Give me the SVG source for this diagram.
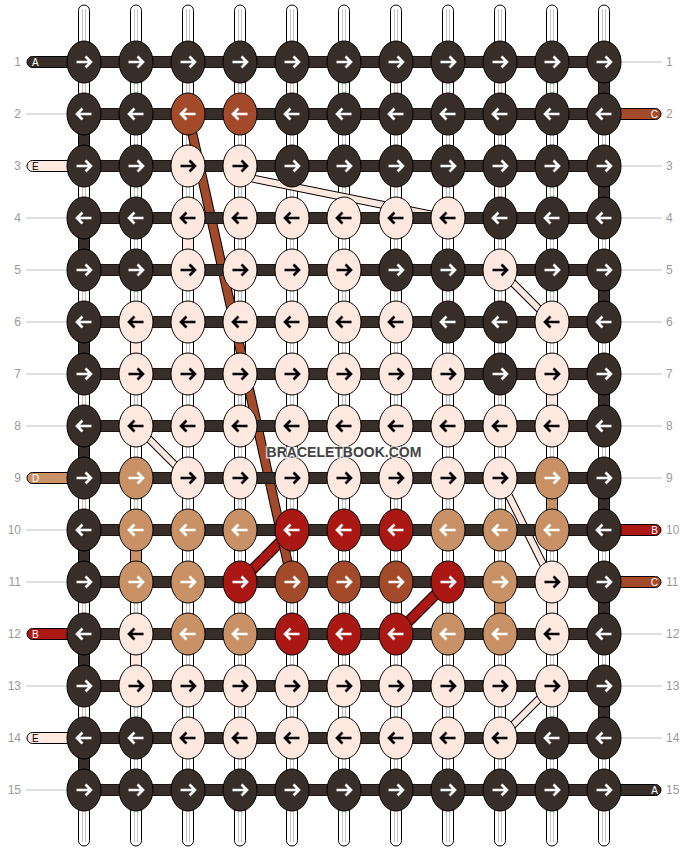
<svg xmlns="http://www.w3.org/2000/svg" xmlns:xlink="http://www.w3.org/1999/xlink" width="688" height="852" viewBox="0 0 688 852">
<style>
.d{fill:#382e29;stroke:#fff}
.r{fill:#a24a2a;stroke:#fff}
.l{fill:#ffe8e0;stroke:#000}
.t{fill:#c99166;stroke:#fff}
.e{fill:#ab1713;stroke:#fff}
ellipse{stroke:#000;stroke-width:1}
.ws{fill:#fff;stroke:#000;stroke-width:1}
.wl{stroke:#c4c4c4;stroke-width:1;fill:none}
.seg{stroke:#000;stroke-width:1}
.bar{fill:#382e29;stroke:#1a1411;stroke-width:1}
.num{font-family:'Liberation Sans',Arial,sans-serif;font-size:12px;fill:#999}
.lead{stroke:#c0c0c0;stroke-width:1}
.tl{font-family:'Liberation Sans',Arial,sans-serif;font-size:10px}
.wm{font-family:'Liberation Sans',Arial,sans-serif;font-weight:bold;font-size:14px;fill:#444;stroke:#fff;stroke-opacity:0.7;stroke-width:3;paint-order:stroke;text-anchor:middle}
</style>
<defs>
<path id="R" d="M-7.5,0H6.5M1.5,-5.5L7,0L1.5,5.5" fill="none" stroke-width="2.6"/>
<path id="L" d="M7.5,0H-6.5M-1.5,-5.5L-7,0L-1.5,5.5" fill="none" stroke-width="2.6"/>
</defs>
<g id="strings">
<g class="ws">
<rect x="78.5" y="5" width="11" height="841" rx="5.5"/>
<rect x="130.5" y="5" width="11" height="841" rx="5.5"/>
<rect x="182.5" y="5" width="11" height="841" rx="5.5"/>
<rect x="234.5" y="5" width="11" height="841" rx="5.5"/>
<rect x="286.5" y="5" width="11" height="841" rx="5.5"/>
<rect x="338.5" y="5" width="11" height="841" rx="5.5"/>
<rect x="390.5" y="5" width="11" height="841" rx="5.5"/>
<rect x="442.5" y="5" width="11" height="841" rx="5.5"/>
<rect x="494.5" y="5" width="11" height="841" rx="5.5"/>
<rect x="546.5" y="5" width="11" height="841" rx="5.5"/>
<rect x="598.5" y="5" width="11" height="841" rx="5.5"/>
</g>
<path class="wl" d="M82.5,9V842M85.5,9V842M134.5,9V842M137.5,9V842M186.5,9V842M189.5,9V842M238.5,9V842M241.5,9V842M290.5,9V842M293.5,9V842M342.5,9V842M345.5,9V842M394.5,9V842M397.5,9V842M446.5,9V842M449.5,9V842M498.5,9V842M501.5,9V842M550.5,9V842M553.5,9V842M602.5,9V842M605.5,9V842"/>
<g class="seg" fill="#382e29">
<rect x="78.5" y="124" width="11" height="32"/>
<rect x="78.5" y="228" width="11" height="32"/>
<rect x="78.5" y="332" width="11" height="32"/>
<rect x="78.5" y="436" width="11" height="32"/>
<rect x="78.5" y="540" width="11" height="32"/>
<rect x="78.5" y="644" width="11" height="32"/>
<rect x="78.5" y="748" width="11" height="32"/>
<rect x="598.5" y="72" width="11" height="32"/>
<rect x="598.5" y="176" width="11" height="32"/>
<rect x="598.5" y="280" width="11" height="32"/>
<rect x="598.5" y="384" width="11" height="32"/>
<rect x="598.5" y="488" width="11" height="32"/>
<rect x="598.5" y="592" width="11" height="32"/>
<rect x="598.5" y="696" width="11" height="32"/>
</g>
<g class="seg" fill="#ffe8e0">
<rect x="182.5" y="228" width="11" height="32"/>
<rect x="130.5" y="332" width="11" height="32"/>
<rect x="546.5" y="384" width="11" height="32"/>
<rect x="130.5" y="644" width="11" height="32"/>
<rect x="546.5" y="592" width="11" height="32"/>
</g>
<g class="seg" fill="#c99166">
<rect x="130.5" y="540" width="11" height="32"/>
<rect x="546.5" y="488" width="11" height="32"/>
<rect x="494.5" y="592" width="11" height="32"/>
</g>
</g>
<g id="connectors" fill="none">
<g stroke="#000" stroke-width="8">
<line x1="240" y1="176" x2="448" y2="218"/>
<line x1="500" y1="270" x2="552" y2="322"/>
<line x1="136" y1="426" x2="188" y2="478"/>
<line x1="500" y1="478" x2="552" y2="582"/>
<line x1="552" y1="686" x2="500" y2="738"/>
</g>
<g stroke="#ffe8e0" stroke-width="6">
<line x1="240" y1="176" x2="448" y2="218"/>
<line x1="500" y1="270" x2="552" y2="322"/>
<line x1="136" y1="426" x2="188" y2="478"/>
<line x1="500" y1="478" x2="552" y2="582"/>
<line x1="552" y1="686" x2="500" y2="738"/>
</g>
<line x1="240" y1="582" x2="292" y2="530" stroke="#000" stroke-width="11"/>
<line x1="396" y1="634" x2="448" y2="582" stroke="#000" stroke-width="11"/>
<line x1="240" y1="582" x2="292" y2="530" stroke="#ab1713" stroke-width="9"/>
<line x1="396" y1="634" x2="448" y2="582" stroke="#ab1713" stroke-width="9"/>
<line x1="188" y1="114" x2="292" y2="582" stroke="#000" stroke-width="10"/>
<line x1="188" y1="114" x2="292" y2="582" stroke="#a24a2a" stroke-width="8"/>
</g>
<g id="rows">
<rect class="bar" x="84" y="56.5" width="520" height="11"/>
<rect class="bar" x="84" y="108.5" width="520" height="11"/>
<rect class="bar" x="84" y="160.5" width="520" height="11"/>
<rect class="bar" x="84" y="212.5" width="520" height="11"/>
<rect class="bar" x="84" y="264.5" width="520" height="11"/>
<rect class="bar" x="84" y="316.5" width="520" height="11"/>
<rect class="bar" x="84" y="368.5" width="520" height="11"/>
<rect class="bar" x="84" y="420.5" width="520" height="11"/>
<rect class="bar" x="84" y="472.5" width="520" height="11"/>
<rect class="bar" x="84" y="524.5" width="520" height="11"/>
<rect class="bar" x="84" y="576.5" width="520" height="11"/>
<rect class="bar" x="84" y="628.5" width="520" height="11"/>
<rect class="bar" x="84" y="680.5" width="520" height="11"/>
<rect class="bar" x="84" y="732.5" width="520" height="11"/>
<rect class="bar" x="84" y="784.5" width="520" height="11"/>
</g>
<g id="edge-threads" stroke="#000" stroke-width="1">
<rect x="27" y="56.5" width="52" height="11" rx="5.5" fill="#382e29"/>
<rect x="27" y="160.5" width="52" height="11" rx="5.5" fill="#ffe8e0"/>
<rect x="27" y="472.5" width="52" height="11" rx="5.5" fill="#c99166"/>
<rect x="27" y="628.5" width="52" height="11" rx="5.5" fill="#ab1713"/>
<rect x="27" y="732.5" width="52" height="11" rx="5.5" fill="#ffe8e0"/>
<rect x="609" y="108.5" width="52" height="11" rx="5.5" fill="#a24a2a"/>
<rect x="609" y="524.5" width="52" height="11" rx="5.5" fill="#ab1713"/>
<rect x="609" y="576.5" width="52" height="11" rx="5.5" fill="#a24a2a"/>
<rect x="609" y="784.5" width="52" height="11" rx="5.5" fill="#382e29"/>
</g>
<g id="edge-labels" class="tl">
<text x="32" y="66" fill="#fff">A</text>
<text x="32" y="170" fill="#000">E</text>
<text x="32" y="482" fill="#fff">D</text>
<text x="32" y="638" fill="#fff">B</text>
<text x="32" y="742" fill="#000">E</text>
<text x="658" y="118" fill="#fff" text-anchor="end">C</text>
<text x="658" y="534" fill="#fff" text-anchor="end">B</text>
<text x="658" y="586" fill="#fff" text-anchor="end">C</text>
<text x="658" y="794" fill="#fff" text-anchor="end">A</text>
</g>
<g id="leaders" class="lead">
<line x1="26" y1="114" x2="67" y2="114"/>
<line x1="26" y1="218" x2="67" y2="218"/>
<line x1="26" y1="270" x2="67" y2="270"/>
<line x1="26" y1="322" x2="67" y2="322"/>
<line x1="26" y1="374" x2="67" y2="374"/>
<line x1="26" y1="426" x2="67" y2="426"/>
<line x1="26" y1="530" x2="67" y2="530"/>
<line x1="26" y1="582" x2="67" y2="582"/>
<line x1="26" y1="686" x2="67" y2="686"/>
<line x1="26" y1="790" x2="67" y2="790"/>
<line x1="621" y1="62" x2="662" y2="62"/>
<line x1="621" y1="166" x2="662" y2="166"/>
<line x1="621" y1="218" x2="662" y2="218"/>
<line x1="621" y1="270" x2="662" y2="270"/>
<line x1="621" y1="322" x2="662" y2="322"/>
<line x1="621" y1="374" x2="662" y2="374"/>
<line x1="621" y1="426" x2="662" y2="426"/>
<line x1="621" y1="478" x2="662" y2="478"/>
<line x1="621" y1="634" x2="662" y2="634"/>
<line x1="621" y1="686" x2="662" y2="686"/>
<line x1="621" y1="738" x2="662" y2="738"/>
</g>
<g id="row-numbers" class="num">
<g text-anchor="end">
<text x="21" y="66">1</text><text x="21" y="118">2</text><text x="21" y="170">3</text><text x="21" y="222">4</text><text x="21" y="274">5</text><text x="21" y="326">6</text><text x="21" y="378">7</text><text x="21" y="430">8</text><text x="21" y="482">9</text><text x="21" y="534">10</text><text x="21" y="586">11</text><text x="21" y="638">12</text><text x="21" y="690">13</text><text x="21" y="742">14</text><text x="21" y="794">15</text>
</g>
<g>
<text x="666" y="66">1</text><text x="666" y="118">2</text><text x="666" y="170">3</text><text x="666" y="222">4</text><text x="666" y="274">5</text><text x="666" y="326">6</text><text x="666" y="378">7</text><text x="666" y="430">8</text><text x="666" y="482">9</text><text x="666" y="534">10</text><text x="666" y="586">11</text><text x="666" y="638">12</text><text x="666" y="690">13</text><text x="666" y="742">14</text><text x="666" y="794">15</text>
</g>
</g>
<g id="knots">
<g id="k1-1" class="d"><ellipse cx="84" cy="62" rx="17" ry="21"/><use href="#R" x="84" y="62"/></g>
<g id="k1-2" class="d"><ellipse cx="136" cy="62" rx="17" ry="21"/><use href="#R" x="136" y="62"/></g>
<g id="k1-3" class="d"><ellipse cx="188" cy="62" rx="17" ry="21"/><use href="#R" x="188" y="62"/></g>
<g id="k1-4" class="d"><ellipse cx="240" cy="62" rx="17" ry="21"/><use href="#R" x="240" y="62"/></g>
<g id="k1-5" class="d"><ellipse cx="292" cy="62" rx="17" ry="21"/><use href="#R" x="292" y="62"/></g>
<g id="k1-6" class="d"><ellipse cx="344" cy="62" rx="17" ry="21"/><use href="#R" x="344" y="62"/></g>
<g id="k1-7" class="d"><ellipse cx="396" cy="62" rx="17" ry="21"/><use href="#R" x="396" y="62"/></g>
<g id="k1-8" class="d"><ellipse cx="448" cy="62" rx="17" ry="21"/><use href="#R" x="448" y="62"/></g>
<g id="k1-9" class="d"><ellipse cx="500" cy="62" rx="17" ry="21"/><use href="#R" x="500" y="62"/></g>
<g id="k1-10" class="d"><ellipse cx="552" cy="62" rx="17" ry="21"/><use href="#R" x="552" y="62"/></g>
<g id="k1-11" class="d"><ellipse cx="604" cy="62" rx="17" ry="21"/><use href="#R" x="604" y="62"/></g>

<g id="k2-1" class="d"><ellipse cx="84" cy="114" rx="17" ry="21"/><use href="#L" x="84" y="114"/></g>
<g id="k2-2" class="d"><ellipse cx="136" cy="114" rx="17" ry="21"/><use href="#L" x="136" y="114"/></g>
<g id="k2-3" class="r"><ellipse cx="188" cy="114" rx="17" ry="21"/><use href="#L" x="188" y="114"/></g>
<g id="k2-4" class="r"><ellipse cx="240" cy="114" rx="17" ry="21"/><use href="#L" x="240" y="114"/></g>
<g id="k2-5" class="d"><ellipse cx="292" cy="114" rx="17" ry="21"/><use href="#L" x="292" y="114"/></g>
<g id="k2-6" class="d"><ellipse cx="344" cy="114" rx="17" ry="21"/><use href="#L" x="344" y="114"/></g>
<g id="k2-7" class="d"><ellipse cx="396" cy="114" rx="17" ry="21"/><use href="#L" x="396" y="114"/></g>
<g id="k2-8" class="d"><ellipse cx="448" cy="114" rx="17" ry="21"/><use href="#L" x="448" y="114"/></g>
<g id="k2-9" class="d"><ellipse cx="500" cy="114" rx="17" ry="21"/><use href="#L" x="500" y="114"/></g>
<g id="k2-10" class="d"><ellipse cx="552" cy="114" rx="17" ry="21"/><use href="#L" x="552" y="114"/></g>
<g id="k2-11" class="d"><ellipse cx="604" cy="114" rx="17" ry="21"/><use href="#L" x="604" y="114"/></g>

<g id="k3-1" class="d"><ellipse cx="84" cy="166" rx="17" ry="21"/><use href="#R" x="84" y="166"/></g>
<g id="k3-2" class="d"><ellipse cx="136" cy="166" rx="17" ry="21"/><use href="#R" x="136" y="166"/></g>
<g id="k3-3" class="l"><ellipse cx="188" cy="166" rx="17" ry="21"/><use href="#R" x="188" y="166"/></g>
<g id="k3-4" class="l"><ellipse cx="240" cy="166" rx="17" ry="21"/><use href="#R" x="240" y="166"/></g>
<g id="k3-5" class="d"><ellipse cx="292" cy="166" rx="17" ry="21"/><use href="#R" x="292" y="166"/></g>
<g id="k3-6" class="d"><ellipse cx="344" cy="166" rx="17" ry="21"/><use href="#R" x="344" y="166"/></g>
<g id="k3-7" class="d"><ellipse cx="396" cy="166" rx="17" ry="21"/><use href="#R" x="396" y="166"/></g>
<g id="k3-8" class="d"><ellipse cx="448" cy="166" rx="17" ry="21"/><use href="#R" x="448" y="166"/></g>
<g id="k3-9" class="d"><ellipse cx="500" cy="166" rx="17" ry="21"/><use href="#R" x="500" y="166"/></g>
<g id="k3-10" class="d"><ellipse cx="552" cy="166" rx="17" ry="21"/><use href="#R" x="552" y="166"/></g>
<g id="k3-11" class="d"><ellipse cx="604" cy="166" rx="17" ry="21"/><use href="#R" x="604" y="166"/></g>

<g id="k4-1" class="d"><ellipse cx="84" cy="218" rx="17" ry="21"/><use href="#L" x="84" y="218"/></g>
<g id="k4-2" class="d"><ellipse cx="136" cy="218" rx="17" ry="21"/><use href="#L" x="136" y="218"/></g>
<g id="k4-3" class="l"><ellipse cx="188" cy="218" rx="17" ry="21"/><use href="#L" x="188" y="218"/></g>
<g id="k4-4" class="l"><ellipse cx="240" cy="218" rx="17" ry="21"/><use href="#L" x="240" y="218"/></g>
<g id="k4-5" class="l"><ellipse cx="292" cy="218" rx="17" ry="21"/><use href="#L" x="292" y="218"/></g>
<g id="k4-6" class="l"><ellipse cx="344" cy="218" rx="17" ry="21"/><use href="#L" x="344" y="218"/></g>
<g id="k4-7" class="l"><ellipse cx="396" cy="218" rx="17" ry="21"/><use href="#L" x="396" y="218"/></g>
<g id="k4-8" class="l"><ellipse cx="448" cy="218" rx="17" ry="21"/><use href="#L" x="448" y="218"/></g>
<g id="k4-9" class="d"><ellipse cx="500" cy="218" rx="17" ry="21"/><use href="#L" x="500" y="218"/></g>
<g id="k4-10" class="d"><ellipse cx="552" cy="218" rx="17" ry="21"/><use href="#L" x="552" y="218"/></g>
<g id="k4-11" class="d"><ellipse cx="604" cy="218" rx="17" ry="21"/><use href="#L" x="604" y="218"/></g>

<g id="k5-1" class="d"><ellipse cx="84" cy="270" rx="17" ry="21"/><use href="#R" x="84" y="270"/></g>
<g id="k5-2" class="d"><ellipse cx="136" cy="270" rx="17" ry="21"/><use href="#R" x="136" y="270"/></g>
<g id="k5-3" class="l"><ellipse cx="188" cy="270" rx="17" ry="21"/><use href="#R" x="188" y="270"/></g>
<g id="k5-4" class="l"><ellipse cx="240" cy="270" rx="17" ry="21"/><use href="#R" x="240" y="270"/></g>
<g id="k5-5" class="l"><ellipse cx="292" cy="270" rx="17" ry="21"/><use href="#R" x="292" y="270"/></g>
<g id="k5-6" class="l"><ellipse cx="344" cy="270" rx="17" ry="21"/><use href="#R" x="344" y="270"/></g>
<g id="k5-7" class="d"><ellipse cx="396" cy="270" rx="17" ry="21"/><use href="#R" x="396" y="270"/></g>
<g id="k5-8" class="d"><ellipse cx="448" cy="270" rx="17" ry="21"/><use href="#R" x="448" y="270"/></g>
<g id="k5-9" class="l"><ellipse cx="500" cy="270" rx="17" ry="21"/><use href="#R" x="500" y="270"/></g>
<g id="k5-10" class="d"><ellipse cx="552" cy="270" rx="17" ry="21"/><use href="#R" x="552" y="270"/></g>
<g id="k5-11" class="d"><ellipse cx="604" cy="270" rx="17" ry="21"/><use href="#R" x="604" y="270"/></g>

<g id="k6-1" class="d"><ellipse cx="84" cy="322" rx="17" ry="21"/><use href="#L" x="84" y="322"/></g>
<g id="k6-2" class="l"><ellipse cx="136" cy="322" rx="17" ry="21"/><use href="#L" x="136" y="322"/></g>
<g id="k6-3" class="l"><ellipse cx="188" cy="322" rx="17" ry="21"/><use href="#L" x="188" y="322"/></g>
<g id="k6-4" class="l"><ellipse cx="240" cy="322" rx="17" ry="21"/><use href="#L" x="240" y="322"/></g>
<g id="k6-5" class="l"><ellipse cx="292" cy="322" rx="17" ry="21"/><use href="#L" x="292" y="322"/></g>
<g id="k6-6" class="l"><ellipse cx="344" cy="322" rx="17" ry="21"/><use href="#L" x="344" y="322"/></g>
<g id="k6-7" class="l"><ellipse cx="396" cy="322" rx="17" ry="21"/><use href="#L" x="396" y="322"/></g>
<g id="k6-8" class="d"><ellipse cx="448" cy="322" rx="17" ry="21"/><use href="#L" x="448" y="322"/></g>
<g id="k6-9" class="d"><ellipse cx="500" cy="322" rx="17" ry="21"/><use href="#L" x="500" y="322"/></g>
<g id="k6-10" class="l"><ellipse cx="552" cy="322" rx="17" ry="21"/><use href="#L" x="552" y="322"/></g>
<g id="k6-11" class="d"><ellipse cx="604" cy="322" rx="17" ry="21"/><use href="#L" x="604" y="322"/></g>

<g id="k7-1" class="d"><ellipse cx="84" cy="374" rx="17" ry="21"/><use href="#R" x="84" y="374"/></g>
<g id="k7-2" class="l"><ellipse cx="136" cy="374" rx="17" ry="21"/><use href="#R" x="136" y="374"/></g>
<g id="k7-3" class="l"><ellipse cx="188" cy="374" rx="17" ry="21"/><use href="#R" x="188" y="374"/></g>
<g id="k7-4" class="l"><ellipse cx="240" cy="374" rx="17" ry="21"/><use href="#R" x="240" y="374"/></g>
<g id="k7-5" class="l"><ellipse cx="292" cy="374" rx="17" ry="21"/><use href="#R" x="292" y="374"/></g>
<g id="k7-6" class="l"><ellipse cx="344" cy="374" rx="17" ry="21"/><use href="#R" x="344" y="374"/></g>
<g id="k7-7" class="l"><ellipse cx="396" cy="374" rx="17" ry="21"/><use href="#R" x="396" y="374"/></g>
<g id="k7-8" class="l"><ellipse cx="448" cy="374" rx="17" ry="21"/><use href="#R" x="448" y="374"/></g>
<g id="k7-9" class="d"><ellipse cx="500" cy="374" rx="17" ry="21"/><use href="#R" x="500" y="374"/></g>
<g id="k7-10" class="l"><ellipse cx="552" cy="374" rx="17" ry="21"/><use href="#R" x="552" y="374"/></g>
<g id="k7-11" class="d"><ellipse cx="604" cy="374" rx="17" ry="21"/><use href="#R" x="604" y="374"/></g>

<g id="k8-1" class="d"><ellipse cx="84" cy="426" rx="17" ry="21"/><use href="#L" x="84" y="426"/></g>
<g id="k8-2" class="l"><ellipse cx="136" cy="426" rx="17" ry="21"/><use href="#L" x="136" y="426"/></g>
<g id="k8-3" class="l"><ellipse cx="188" cy="426" rx="17" ry="21"/><use href="#L" x="188" y="426"/></g>
<g id="k8-4" class="l"><ellipse cx="240" cy="426" rx="17" ry="21"/><use href="#L" x="240" y="426"/></g>
<g id="k8-5" class="l"><ellipse cx="292" cy="426" rx="17" ry="21"/><use href="#L" x="292" y="426"/></g>
<g id="k8-6" class="l"><ellipse cx="344" cy="426" rx="17" ry="21"/><use href="#L" x="344" y="426"/></g>
<g id="k8-7" class="l"><ellipse cx="396" cy="426" rx="17" ry="21"/><use href="#L" x="396" y="426"/></g>
<g id="k8-8" class="l"><ellipse cx="448" cy="426" rx="17" ry="21"/><use href="#L" x="448" y="426"/></g>
<g id="k8-9" class="l"><ellipse cx="500" cy="426" rx="17" ry="21"/><use href="#L" x="500" y="426"/></g>
<g id="k8-10" class="l"><ellipse cx="552" cy="426" rx="17" ry="21"/><use href="#L" x="552" y="426"/></g>
<g id="k8-11" class="d"><ellipse cx="604" cy="426" rx="17" ry="21"/><use href="#L" x="604" y="426"/></g>

<g id="k9-1" class="d"><ellipse cx="84" cy="478" rx="17" ry="21"/><use href="#R" x="84" y="478"/></g>
<g id="k9-2" class="t"><ellipse cx="136" cy="478" rx="17" ry="21"/><use href="#R" x="136" y="478"/></g>
<g id="k9-3" class="l"><ellipse cx="188" cy="478" rx="17" ry="21"/><use href="#R" x="188" y="478"/></g>
<g id="k9-4" class="l"><ellipse cx="240" cy="478" rx="17" ry="21"/><use href="#R" x="240" y="478"/></g>
<g id="k9-5" class="l"><ellipse cx="292" cy="478" rx="17" ry="21"/><use href="#R" x="292" y="478"/></g>
<g id="k9-6" class="l"><ellipse cx="344" cy="478" rx="17" ry="21"/><use href="#R" x="344" y="478"/></g>
<g id="k9-7" class="l"><ellipse cx="396" cy="478" rx="17" ry="21"/><use href="#R" x="396" y="478"/></g>
<g id="k9-8" class="l"><ellipse cx="448" cy="478" rx="17" ry="21"/><use href="#R" x="448" y="478"/></g>
<g id="k9-9" class="l"><ellipse cx="500" cy="478" rx="17" ry="21"/><use href="#R" x="500" y="478"/></g>
<g id="k9-10" class="t"><ellipse cx="552" cy="478" rx="17" ry="21"/><use href="#R" x="552" y="478"/></g>
<g id="k9-11" class="d"><ellipse cx="604" cy="478" rx="17" ry="21"/><use href="#R" x="604" y="478"/></g>

<g id="k10-1" class="d"><ellipse cx="84" cy="530" rx="17" ry="21"/><use href="#L" x="84" y="530"/></g>
<g id="k10-2" class="t"><ellipse cx="136" cy="530" rx="17" ry="21"/><use href="#L" x="136" y="530"/></g>
<g id="k10-3" class="t"><ellipse cx="188" cy="530" rx="17" ry="21"/><use href="#L" x="188" y="530"/></g>
<g id="k10-4" class="t"><ellipse cx="240" cy="530" rx="17" ry="21"/><use href="#L" x="240" y="530"/></g>
<g id="k10-5" class="e"><ellipse cx="292" cy="530" rx="17" ry="21"/><use href="#L" x="292" y="530"/></g>
<g id="k10-6" class="e"><ellipse cx="344" cy="530" rx="17" ry="21"/><use href="#L" x="344" y="530"/></g>
<g id="k10-7" class="e"><ellipse cx="396" cy="530" rx="17" ry="21"/><use href="#L" x="396" y="530"/></g>
<g id="k10-8" class="t"><ellipse cx="448" cy="530" rx="17" ry="21"/><use href="#L" x="448" y="530"/></g>
<g id="k10-9" class="t"><ellipse cx="500" cy="530" rx="17" ry="21"/><use href="#L" x="500" y="530"/></g>
<g id="k10-10" class="t"><ellipse cx="552" cy="530" rx="17" ry="21"/><use href="#L" x="552" y="530"/></g>
<g id="k10-11" class="d"><ellipse cx="604" cy="530" rx="17" ry="21"/><use href="#L" x="604" y="530"/></g>

<g id="k11-1" class="d"><ellipse cx="84" cy="582" rx="17" ry="21"/><use href="#R" x="84" y="582"/></g>
<g id="k11-2" class="t"><ellipse cx="136" cy="582" rx="17" ry="21"/><use href="#R" x="136" y="582"/></g>
<g id="k11-3" class="t"><ellipse cx="188" cy="582" rx="17" ry="21"/><use href="#R" x="188" y="582"/></g>
<g id="k11-4" class="e"><ellipse cx="240" cy="582" rx="17" ry="21"/><use href="#R" x="240" y="582"/></g>
<g id="k11-5" class="r"><ellipse cx="292" cy="582" rx="17" ry="21"/><use href="#R" x="292" y="582"/></g>
<g id="k11-6" class="r"><ellipse cx="344" cy="582" rx="17" ry="21"/><use href="#R" x="344" y="582"/></g>
<g id="k11-7" class="r"><ellipse cx="396" cy="582" rx="17" ry="21"/><use href="#R" x="396" y="582"/></g>
<g id="k11-8" class="e"><ellipse cx="448" cy="582" rx="17" ry="21"/><use href="#R" x="448" y="582"/></g>
<g id="k11-9" class="t"><ellipse cx="500" cy="582" rx="17" ry="21"/><use href="#R" x="500" y="582"/></g>
<g id="k11-10" class="l"><ellipse cx="552" cy="582" rx="17" ry="21"/><use href="#R" x="552" y="582"/></g>
<g id="k11-11" class="d"><ellipse cx="604" cy="582" rx="17" ry="21"/><use href="#R" x="604" y="582"/></g>

<g id="k12-1" class="d"><ellipse cx="84" cy="634" rx="17" ry="21"/><use href="#L" x="84" y="634"/></g>
<g id="k12-2" class="l"><ellipse cx="136" cy="634" rx="17" ry="21"/><use href="#L" x="136" y="634"/></g>
<g id="k12-3" class="t"><ellipse cx="188" cy="634" rx="17" ry="21"/><use href="#L" x="188" y="634"/></g>
<g id="k12-4" class="t"><ellipse cx="240" cy="634" rx="17" ry="21"/><use href="#L" x="240" y="634"/></g>
<g id="k12-5" class="e"><ellipse cx="292" cy="634" rx="17" ry="21"/><use href="#L" x="292" y="634"/></g>
<g id="k12-6" class="e"><ellipse cx="344" cy="634" rx="17" ry="21"/><use href="#L" x="344" y="634"/></g>
<g id="k12-7" class="e"><ellipse cx="396" cy="634" rx="17" ry="21"/><use href="#L" x="396" y="634"/></g>
<g id="k12-8" class="t"><ellipse cx="448" cy="634" rx="17" ry="21"/><use href="#L" x="448" y="634"/></g>
<g id="k12-9" class="t"><ellipse cx="500" cy="634" rx="17" ry="21"/><use href="#L" x="500" y="634"/></g>
<g id="k12-10" class="l"><ellipse cx="552" cy="634" rx="17" ry="21"/><use href="#L" x="552" y="634"/></g>
<g id="k12-11" class="d"><ellipse cx="604" cy="634" rx="17" ry="21"/><use href="#L" x="604" y="634"/></g>

<g id="k13-1" class="d"><ellipse cx="84" cy="686" rx="17" ry="21"/><use href="#R" x="84" y="686"/></g>
<g id="k13-2" class="l"><ellipse cx="136" cy="686" rx="17" ry="21"/><use href="#R" x="136" y="686"/></g>
<g id="k13-3" class="l"><ellipse cx="188" cy="686" rx="17" ry="21"/><use href="#R" x="188" y="686"/></g>
<g id="k13-4" class="l"><ellipse cx="240" cy="686" rx="17" ry="21"/><use href="#R" x="240" y="686"/></g>
<g id="k13-5" class="l"><ellipse cx="292" cy="686" rx="17" ry="21"/><use href="#R" x="292" y="686"/></g>
<g id="k13-6" class="l"><ellipse cx="344" cy="686" rx="17" ry="21"/><use href="#R" x="344" y="686"/></g>
<g id="k13-7" class="l"><ellipse cx="396" cy="686" rx="17" ry="21"/><use href="#R" x="396" y="686"/></g>
<g id="k13-8" class="l"><ellipse cx="448" cy="686" rx="17" ry="21"/><use href="#R" x="448" y="686"/></g>
<g id="k13-9" class="l"><ellipse cx="500" cy="686" rx="17" ry="21"/><use href="#R" x="500" y="686"/></g>
<g id="k13-10" class="l"><ellipse cx="552" cy="686" rx="17" ry="21"/><use href="#R" x="552" y="686"/></g>
<g id="k13-11" class="d"><ellipse cx="604" cy="686" rx="17" ry="21"/><use href="#R" x="604" y="686"/></g>

<g id="k14-1" class="d"><ellipse cx="84" cy="738" rx="17" ry="21"/><use href="#L" x="84" y="738"/></g>
<g id="k14-2" class="d"><ellipse cx="136" cy="738" rx="17" ry="21"/><use href="#L" x="136" y="738"/></g>
<g id="k14-3" class="l"><ellipse cx="188" cy="738" rx="17" ry="21"/><use href="#L" x="188" y="738"/></g>
<g id="k14-4" class="l"><ellipse cx="240" cy="738" rx="17" ry="21"/><use href="#L" x="240" y="738"/></g>
<g id="k14-5" class="l"><ellipse cx="292" cy="738" rx="17" ry="21"/><use href="#L" x="292" y="738"/></g>
<g id="k14-6" class="l"><ellipse cx="344" cy="738" rx="17" ry="21"/><use href="#L" x="344" y="738"/></g>
<g id="k14-7" class="l"><ellipse cx="396" cy="738" rx="17" ry="21"/><use href="#L" x="396" y="738"/></g>
<g id="k14-8" class="l"><ellipse cx="448" cy="738" rx="17" ry="21"/><use href="#L" x="448" y="738"/></g>
<g id="k14-9" class="l"><ellipse cx="500" cy="738" rx="17" ry="21"/><use href="#L" x="500" y="738"/></g>
<g id="k14-10" class="d"><ellipse cx="552" cy="738" rx="17" ry="21"/><use href="#L" x="552" y="738"/></g>
<g id="k14-11" class="d"><ellipse cx="604" cy="738" rx="17" ry="21"/><use href="#L" x="604" y="738"/></g>

<g id="k15-1" class="d"><ellipse cx="84" cy="790" rx="17" ry="21"/><use href="#R" x="84" y="790"/></g>
<g id="k15-2" class="d"><ellipse cx="136" cy="790" rx="17" ry="21"/><use href="#R" x="136" y="790"/></g>
<g id="k15-3" class="d"><ellipse cx="188" cy="790" rx="17" ry="21"/><use href="#R" x="188" y="790"/></g>
<g id="k15-4" class="d"><ellipse cx="240" cy="790" rx="17" ry="21"/><use href="#R" x="240" y="790"/></g>
<g id="k15-5" class="d"><ellipse cx="292" cy="790" rx="17" ry="21"/><use href="#R" x="292" y="790"/></g>
<g id="k15-6" class="d"><ellipse cx="344" cy="790" rx="17" ry="21"/><use href="#R" x="344" y="790"/></g>
<g id="k15-7" class="d"><ellipse cx="396" cy="790" rx="17" ry="21"/><use href="#R" x="396" y="790"/></g>
<g id="k15-8" class="d"><ellipse cx="448" cy="790" rx="17" ry="21"/><use href="#R" x="448" y="790"/></g>
<g id="k15-9" class="d"><ellipse cx="500" cy="790" rx="17" ry="21"/><use href="#R" x="500" y="790"/></g>
<g id="k15-10" class="d"><ellipse cx="552" cy="790" rx="17" ry="21"/><use href="#R" x="552" y="790"/></g>
<g id="k15-11" class="d"><ellipse cx="604" cy="790" rx="17" ry="21"/><use href="#R" x="604" y="790"/></g>
</g>
<text id="watermark" class="wm" x="344" y="457">BRACELETBOOK.COM</text>
</svg>
